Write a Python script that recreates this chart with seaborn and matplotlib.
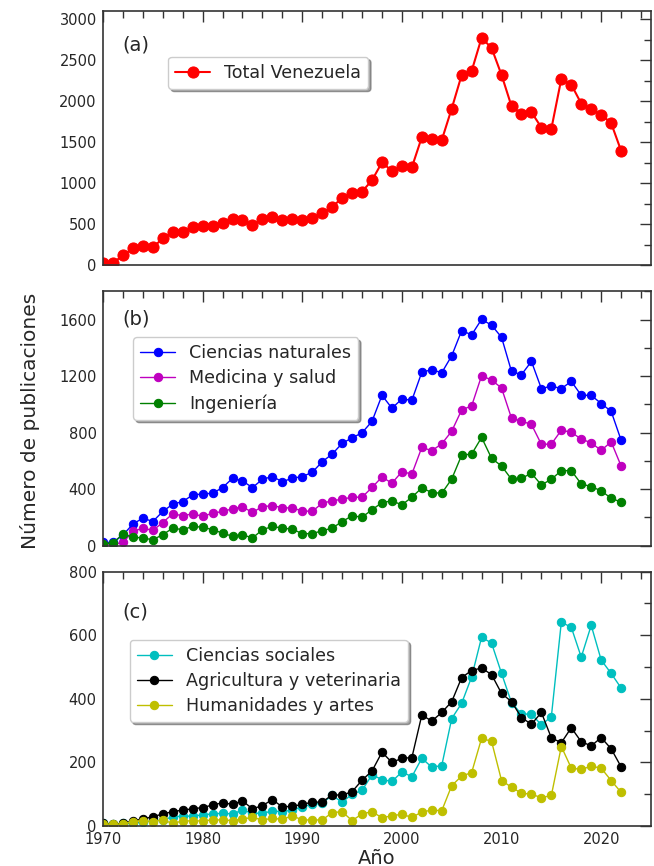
import numpy as np
import pandas as pd
import matplotlib
matplotlib.use("Agg")
import matplotlib.pyplot as plt
from matplotlib.ticker import MultipleLocator
import seaborn as sns

years = list(range(1970, 2023))

total_vzla = [33, 30, 121, 207, 235, 219, 328, 409, 409, 462,
              478, 478, 519, 567, 551, 498, 567, 587, 551, 571,
              551, 575, 640, 709, 826, 879, 899, 1037, 1255, 1150,
              1207, 1195, 1563, 1543, 1527, 1911, 2321, 2369, 2774, 2649,
              2321, 1940, 1847, 1867, 1680, 1665, 2272, 2203, 1972, 1904,
              1838, 1734, 1397]

naturales = [23, 23, 75, 153, 195, 171, 242, 294, 312, 359,
             366, 371, 411, 477, 458, 411, 470, 489, 453, 477,
             489, 519, 594, 648, 724, 763, 799, 880, 1064, 973,
             1038, 1029, 1228, 1245, 1224, 1344, 1522, 1492, 1602, 1560,
             1475, 1233, 1210, 1304, 1111, 1130, 1111, 1163, 1064, 1064,
             1006, 951, 747]

medicina = [10, 10, 23, 101, 124, 108, 164, 226, 211, 226,
            207, 230, 242, 261, 275, 235, 277, 282, 270, 265,
            247, 242, 301, 317, 329, 343, 343, 412, 486, 442,
            524, 507, 696, 672, 721, 810, 961, 989, 1203, 1172,
            1116, 902, 881, 858, 717, 719, 817, 803, 754, 728,
            674, 735, 564]

ingenieria = [14, 19, 82, 61, 54, 42, 78, 124, 113, 136,
              131, 113, 89, 66, 78, 54, 113, 136, 124, 117,
              85, 85, 106, 124, 171, 211, 202, 254, 305, 317,
              289, 343, 409, 376, 371, 472, 641, 648, 766, 618,
              564, 470, 477, 512, 430, 470, 531, 531, 437, 418,
              388, 336, 308]

sociales = [10, 6, 8, 8, 12, 16, 19, 29, 31, 31,
            35, 38, 40, 38, 50, 40, 40, 47, 45, 50,
            60, 68, 72, 96, 75, 100, 112, 161, 146, 140,
            170, 155, 213, 185, 190, 338, 386, 469, 594, 575,
            480, 388, 352, 352, 318, 344, 641, 625, 531, 631,
            522, 480, 434]

agricultura = [8, 5, 8, 16, 22, 29, 38, 45, 50, 54,
               58, 66, 73, 68, 79, 54, 64, 83, 60, 62,
               68, 75, 75, 98, 97, 108, 144, 173, 232, 200,
               213, 215, 349, 330, 357, 391, 467, 489, 497, 476,
               417, 391, 341, 320, 357, 277, 262, 309, 265, 252,
               278, 243, 186]

humanidades = [6, 6, 6, 14, 17, 14, 19, 8, 16, 16,
               16, 19, 19, 17, 22, 27, 19, 24, 21, 32,
               19, 19, 19, 42, 45, 17, 38, 45, 26, 32,
               37, 27, 44, 50, 48, 127, 157, 168, 276, 266,
               143, 122, 103, 100, 89, 96, 250, 182, 178, 188,
               182, 143, 106]

sns.set_style("white")
plt.rcParams['font.family'] = ['DejaVu Sans']

fig, axes = plt.subplots(3, 1, figsize=(6.54, 8.66), dpi=100, sharex=True)
fig.subplots_adjust(left=0.1575, right=0.9954, top=0.9873, bottom=0.0462, hspace=0.102)

paneles = [
    [("Total Venezuela", total_vzla, "red")],
    [("Ciencias naturales", naturales, "blue"),
     ("Medicina y salud", medicina, "m"),
     ("Ingeniería", ingenieria, "g")],
    [("Ciencias sociales", sociales, "c"),
     ("Agricultura y veterinaria", agricultura, "k"),
     ("Humanidades y artes", humanidades, "y")],
]
ylims = [(0, 3100), (0, 1800), (0, 800)]
ymaj = [500, 400, 200]
letras = ["(a)", "(b)", "(c)"]
letra_pos = [(0.036, 0.867), (0.036, 0.89), (0.036, 0.843)]
leg_pos = [(0.119, 0.82), (0.055, 0.819), (0.049, 0.732)]

for i, ax in enumerate(axes):
    ms = 8 if i == 0 else 6
    lw = 1.5 if i == 0 else 1.0
    for nombre, vals, col in paneles[i]:
        df = pd.DataFrame({"anio": years, "n": vals})
        sns.lineplot(data=df, x="anio", y="n", ax=ax, color=col, marker="o",
                     markersize=ms, markeredgecolor=col, linewidth=lw, label=nombre)
    ax.set_xlim(1970, 2025)
    ax.set_ylim(*ylims[i])
    ax.xaxis.set_major_locator(MultipleLocator(10))
    ax.xaxis.set_minor_locator(MultipleLocator(2))
    ax.yaxis.set_major_locator(MultipleLocator(ymaj[i]))
    ax.yaxis.set_minor_locator(MultipleLocator(ymaj[i] / 2))
    ax.tick_params(which="both", direction="in", top=True, right=True, labelsize=10.5,
                   color="#333333", pad=4.5)
    ax.tick_params(which="major", length=8, width=1)
    ax.tick_params(which="minor", length=5, width=1)
    for s in ax.spines.values():
        s.set_color("#333333")
        s.set_linewidth(1.2)
    ax.set_xlabel("")
    ax.set_ylabel("")
    ax.text(letra_pos[i][0], letra_pos[i][1], letras[i], transform=ax.transAxes,
            fontsize=14, va="center", ha="left")
    ax.legend(loc="upper left", bbox_to_anchor=leg_pos[i], borderaxespad=0,
              fontsize=12.6, labelspacing=0.4, shadow=True, fancybox=True,
              framealpha=1)

axes[2].set_xlabel("Año", fontsize=14, labelpad=1)
fig.text(0.046, 0.514, "Número de publicaciones", rotation=90, fontsize=14.5,
         ha="center", va="center")

fig.savefig("out.png", dpi=100)
